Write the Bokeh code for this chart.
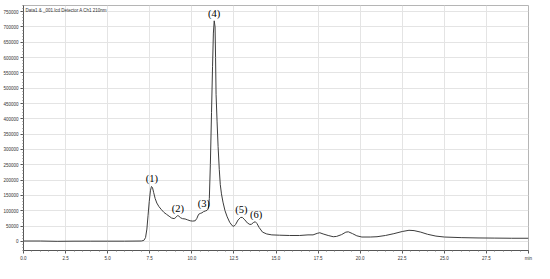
from bokeh.plotting import figure
from bokeh.models import FixedTicker, Label, ColumnDataSource, Range1d
from bokeh.core.properties import value
from bokeh.embed import file_html
from bokeh.resources import INLINE

# chromatogram trace (time in min, signal in uV)
time = [0.0, 1.0, 2.0, 3.0, 4.0, 5.0, 6.0, 7.0, 7.15, 7.25, 7.33, 7.40, 7.47, 7.54,
        7.60, 7.66, 7.73, 7.82, 7.92, 8.05, 8.2, 8.35, 8.5, 8.65, 8.8, 8.95, 9.05,
        9.15, 9.22, 9.32, 9.45, 9.6, 9.75, 9.9, 10.05, 10.2, 10.3, 10.4, 10.5, 10.6,
        10.7, 10.8, 10.9, 10.98, 11.04, 11.1, 11.17, 11.23, 11.28, 11.33, 11.38, 11.41,
        11.44, 11.5, 11.56, 11.63, 11.69, 11.76, 11.85, 11.97, 12.1, 12.25, 12.4, 12.5,
        12.6, 12.75, 12.9, 13.0, 13.15, 13.3, 13.45, 13.55, 13.65, 13.77, 13.87, 14.0,
        14.2, 14.45, 14.75, 15.2, 15.8, 16.4, 16.9, 17.2, 17.45, 17.6, 17.8, 18.1, 18.4,
        18.6, 18.9, 19.15, 19.3, 19.55, 19.8, 20.1, 20.6, 21.0, 21.5, 22.0, 22.5, 22.9,
        23.2, 23.6, 24.0, 24.5, 25.0, 26.0, 27.0, 28.0, 29.0, 30.0]
signal = [1000, 1000, 0, 500, 500, 500, 500, 1000, 3000, 12000, 40000, 85000, 130000, 165000,
          179000, 176000, 160000, 140000, 125000, 113000, 103000, 94000, 88000, 82000, 76000, 74000, 78000,
          84000, 83000, 77000, 74000, 73000, 70000, 67000, 66000, 67000, 75000, 88000, 91000, 93000,
          97000, 99000, 101000, 106000, 140000, 250000, 420000, 570000, 680000, 720000, 700000, 600000,
          480000, 390000, 310000, 235000, 185000, 155000, 128000, 100000, 80000, 62000, 51000, 49000,
          55000, 70000, 78000, 78000, 70000, 60000, 55000, 56000, 61000, 64000, 58000, 45000,
          30000, 24000, 21000, 20000, 19000, 19000, 21000, 21000, 26000, 28000, 24000, 19000, 15000,
          16000, 22000, 30000, 31000, 25000, 18000, 14000, 14000, 15000, 19000, 25000, 32000, 36000,
          35000, 30000, 23000, 17000, 14000, 12000, 11000, 10500, 10000, 10000]

# peak annotations
peak_time = [7.62, 9.17, 10.72, 11.33, 12.95, 13.82]
peak_height = [179000, 84000, 99000, 720000, 78000, 64000]
peak_label = ["(1)", "(2)", "(3)", "(4)", "(5)", "(6)"]

# axis ticks
x_ticks = [0.0, 2.5, 5.0, 7.5, 10.0, 12.5, 15.0, 17.5, 20.0, 22.5, 25.0, 27.5, 30.0]
x_tick_labels = ["0.0", "2.5", "5.0", "7.5", "10.0", "12.5", "15.0", "17.5", "20.0",
                 "22.5", "25.0", "27.5", "min"]
y_ticks = [0, 50000, 100000, 150000, 200000, 250000, 300000, 350000, 400000, 450000,
           500000, 550000, 600000, 650000, 700000, 750000]
y_tick_labels = ["0", "50000", "100000", "150000", "200000", "250000", "300000", "350000",
                 "400000", "450000", "500000", "550000", "600000", "650000", "700000", "750000"]

p = figure(width=534, height=263, x_range=Range1d(0, 30), y_range=Range1d(-30000, 770000),
           output_backend="svg", toolbar_location=None,
           min_border_left=0, min_border_right=6, min_border_top=5, min_border_bottom=0)
p.background_fill_color = "white"
p.border_fill_color = "white"
p.outline_line_color = "#b5b5b5"
p.outline_line_width = 1

p.line(time, signal, line_color="#3c3c3c", line_width=1)

src = ColumnDataSource(dict(x=peak_time, y=peak_height, t=peak_label))
p.text(x="x", y="y", text="t", source=src, text_font=value("Liberation Serif"),
       text_font_size="10.5px", text_align="center", text_baseline="bottom",
       y_offset=-2, text_color="black")

x_minor = [i * 0.5 for i in range(61)]
y_minor = [i * 10000 for i in range(-3, 78)]
p.xaxis.ticker = FixedTicker(ticks=x_ticks, minor_ticks=x_minor)
p.yaxis.ticker = FixedTicker(ticks=y_ticks, minor_ticks=y_minor)
p.xaxis.major_label_overrides = {t: l for t, l in zip(x_ticks, x_tick_labels)}
p.yaxis.major_label_overrides = {t: l for t, l in zip(y_ticks, y_tick_labels)}

for ax in (p.xaxis[0], p.yaxis[0]):
    ax.axis_line_color = "#555555"
    ax.major_tick_line_color = "#555555"
    ax.minor_tick_line_color = "#777777"
    ax.major_tick_out = 3
    ax.major_tick_in = 0
    ax.minor_tick_out = 1
    ax.minor_tick_in = 0
    ax.major_label_text_font = "Liberation Sans"
    ax.major_label_text_font_size = "4.5px"
    ax.major_label_text_color = "#333333"
    ax.major_label_standoff = 2

p.xgrid.grid_line_color = "#e4e4e4"
p.ygrid.grid_line_color = "#e4e4e4"

p.add_layout(Label(x=0.12, y=762000, text="Data1 & _001.lcd Detector A Ch1 210nm",
                   text_font="Liberation Sans", text_font_size="4.5px",
                   text_baseline="top", text_color="#333333"))
p.add_layout(Label(x=0, y=772000, text="uV", text_font="Liberation Sans",
                   text_font_size="4.5px", text_align="center", text_baseline="bottom",
                   text_color="#333333"))

open("out.html", "w").write(file_html(p, INLINE))
